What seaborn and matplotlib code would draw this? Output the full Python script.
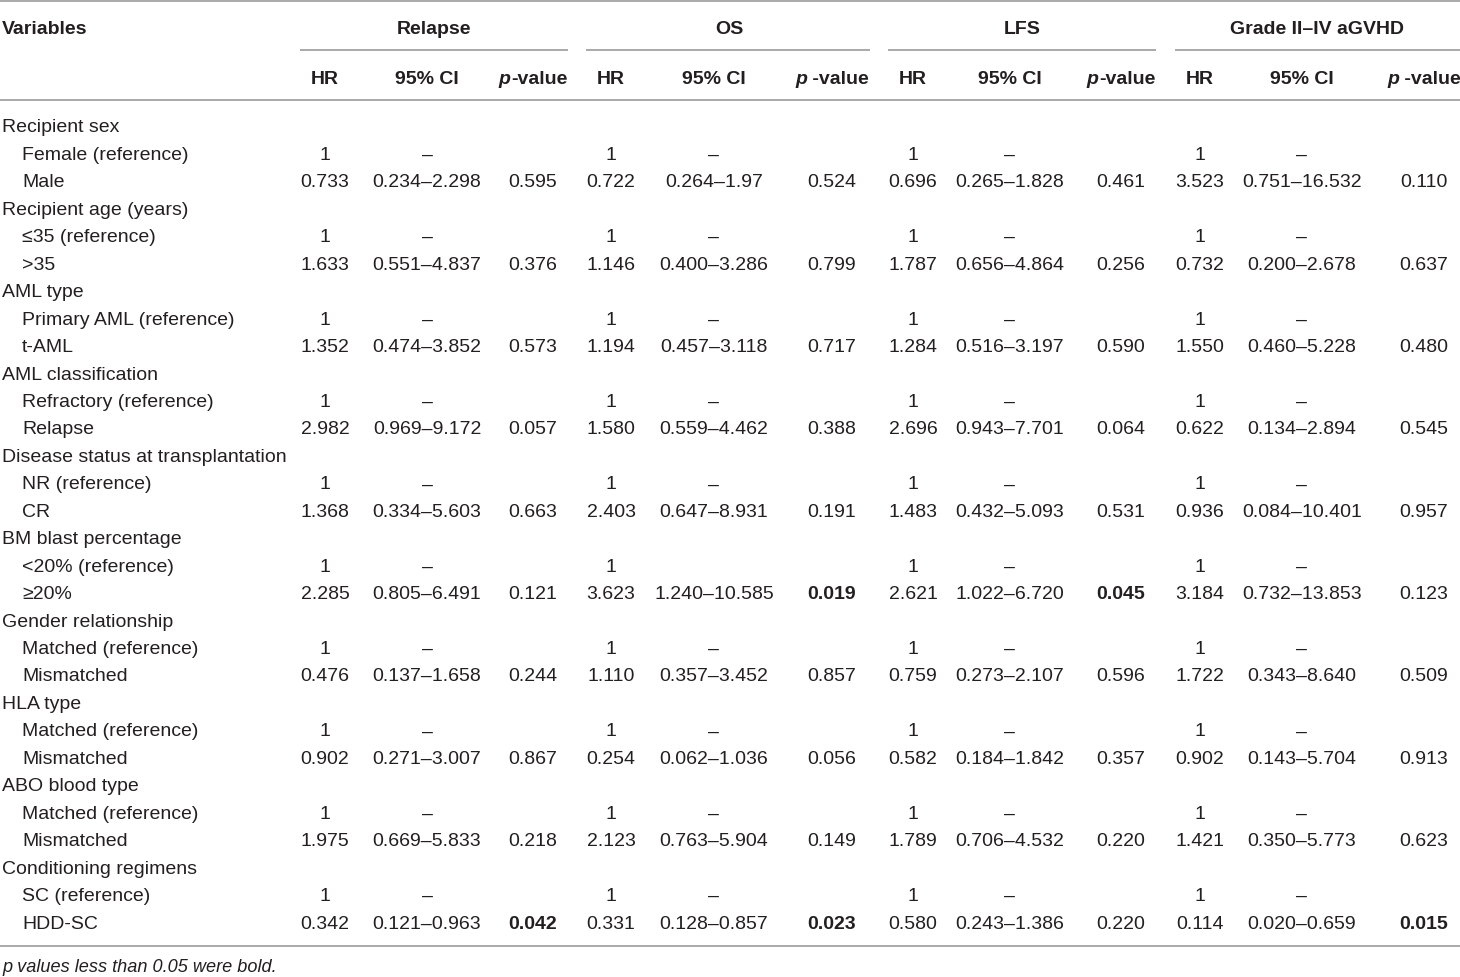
import matplotlib
matplotlib.use("Agg")
import matplotlib.pyplot as plt
import seaborn as sns

# Table contents
groups = ["Recipient sex", "Recipient age (years)", "AML type", "AML classification",
          "Disease status at transplantation", "BM blast percentage", "Gender relationship",
          "HLA type", "ABO blood type", "Conditioning regimens"]
ref_levels = ["Female (reference)", "\u226435 (reference)", "Primary AML (reference)",
              "Refractory (reference)", "NR (reference)", "<20% (reference)",
              "Matched (reference)", "Matched (reference)", "Matched (reference)",
              "SC (reference)"]
cmp_levels = ["Male", ">35", "t-AML", "Relapse", "CR", "\u226520%", "Mismatched",
              "Mismatched", "Mismatched", "HDD-SC"]

outcomes = ["Relapse", "OS", "LFS", "Grade II\u2013IV aGVHD"]

relapse_hr = ["0.733", "1.633", "1.352", "2.982", "1.368", "2.285", "0.476", "0.902", "1.975", "0.342"]
relapse_ci = ["0.234\u20132.298", "0.551\u20134.837", "0.474\u20133.852", "0.969\u20139.172",
              "0.334\u20135.603", "0.805\u20136.491", "0.137\u20131.658", "0.271\u20133.007",
              "0.669\u20135.833", "0.121\u20130.963"]
relapse_p = ["0.595", "0.376", "0.573", "0.057", "0.663", "0.121", "0.244", "0.867", "0.218", "0.042"]

os_hr = ["0.722", "1.146", "1.194", "1.580", "2.403", "3.623", "1.110", "0.254", "2.123", "0.331"]
os_ci = ["0.264\u20131.97", "0.400\u20133.286", "0.457\u20133.118", "0.559\u20134.462",
         "0.647\u20138.931", "1.240\u201310.585", "0.357\u20133.452", "0.062\u20131.036",
         "0.763\u20135.904", "0.128\u20130.857"]
os_p = ["0.524", "0.799", "0.717", "0.388", "0.191", "0.019", "0.857", "0.056", "0.149", "0.023"]

lfs_hr = ["0.696", "1.787", "1.284", "2.696", "1.483", "2.621", "0.759", "0.582", "1.789", "0.580"]
lfs_ci = ["0.265\u20131.828", "0.656\u20134.864", "0.516\u20133.197", "0.943\u20137.701",
          "0.432\u20135.093", "1.022\u20136.720", "0.273\u20132.107", "0.184\u20131.842",
          "0.706\u20134.532", "0.243\u20131.386"]
lfs_p = ["0.461", "0.256", "0.590", "0.064", "0.531", "0.045", "0.596", "0.357", "0.220", "0.220"]

gvhd_hr = ["3.523", "0.732", "1.550", "0.622", "0.936", "3.184", "1.722", "0.902", "1.421", "0.114"]
gvhd_ci = ["0.751\u201316.532", "0.200\u20132.678", "0.460\u20135.228", "0.134\u20132.894",
           "0.084\u201310.401", "0.732\u201313.853", "0.343\u20138.640", "0.143\u20135.704",
           "0.350\u20135.773", "0.020\u20130.659"]
gvhd_p = ["0.110", "0.637", "0.480", "0.545", "0.957", "0.123", "0.509", "0.913", "0.623", "0.015"]

# CI shown on the reference rows ("" where the source leaves it blank)
relapse_ref_ci = ["\u2013"] * 10
os_ref_ci = ["\u2013"] * 5 + [""] + ["\u2013"] * 4
lfs_ref_ci = ["\u2013"] * 10
gvhd_ref_ci = ["\u2013"] * 10

series = [(relapse_hr, relapse_ci, relapse_p, relapse_ref_ci),
          (os_hr, os_ci, os_p, os_ref_ci),
          (lfs_hr, lfs_ci, lfs_p, lfs_ref_ci),
          (gvhd_hr, gvhd_ci, gvhd_p, gvhd_ref_ci)]
p_headers = ["-value", " -value", "-value", " -value"]
footnote = "p values less than 0.05 were bold."

# Layout (pixel space)
W, H = 1460, 977
col_x = [(325, 427, 533), (611, 714, 832), (913, 1010, 1121), (1200, 1302, 1424)]
group_span = [(300, 568), (586, 870), (888, 1156), (1175, 1460)]
title_x = [434, 729, 1022, 1317]
y_first, dy = 128, 27.45
txt = "#231f20"
rule = "#a3a3a3"
fs = 14.0

sns.set_theme(style="white")
plt.rcParams["font.family"] = ["Liberation Sans", "DejaVu Sans"]

fig = plt.figure(figsize=(W / 100, H / 100), dpi=100)
ax = fig.add_axes([0, 0, 1, 1])
ax.set_xlim(0, W)
ax.set_ylim(H, 0)
ax.axis("off")

# rules
ax.axhline(1, color=rule, lw=1.3)
ax.axhline(100, color=rule, lw=1.3)
ax.axhline(946, color=rule, lw=1.3)
for x0, x1 in group_span:
    ax.plot([x0, x1], [50, 50], color=rule, lw=1.3, solid_capstyle="butt")

# header
ax.text(2, 29, "Variables", ha="left", va="center", fontsize=fs, fontweight="bold", color=txt)
for name, x in zip(outcomes, title_x):
    ax.text(x, 29, name, ha="center", va="center", fontsize=fs, fontweight="bold", color=txt)

fig.canvas.draw()
renderer = fig.canvas.get_renderer()
for (xh, xc, xp), ph in zip(col_x, p_headers):
    ax.text(xh, 79, "HR", ha="center", va="center", fontsize=fs, fontweight="bold", color=txt)
    ax.text(xc, 79, "95% CI", ha="center", va="center", fontsize=fs, fontweight="bold", color=txt)
    t1 = ax.text(0, 79, "p", ha="left", va="center", fontsize=fs, fontweight="bold",
                 style="italic", color=txt)
    t2 = ax.text(0, 79, ph, ha="left", va="center", fontsize=fs, fontweight="bold", color=txt)
    w1 = t1.get_window_extent(renderer).width
    w2 = t2.get_window_extent(renderer).width
    left = xp - (w1 + w2) / 2
    t1.set_x(left)
    t2.set_x(left + w1)

# body
for g in range(len(groups)):
    y0 = y_first + 3 * g * dy
    ax.text(2, y0, groups[g], ha="left", va="center", fontsize=fs, color=txt)
    ax.text(22, y0 + dy, ref_levels[g], ha="left", va="center", fontsize=fs, color=txt)
    ax.text(22, y0 + 2 * dy, cmp_levels[g], ha="left", va="center", fontsize=fs, color=txt)
    for (hr, ci, pv, ref_ci), (xh, xc, xp) in zip(series, col_x):
        ax.text(xh, y0 + dy, "1", ha="center", va="center", fontsize=fs, color=txt)
        ax.text(xc, y0 + dy, ref_ci[g], ha="center", va="center", fontsize=fs, color=txt)
        ax.text(xh, y0 + 2 * dy, hr[g], ha="center", va="center", fontsize=fs, color=txt)
        ax.text(xc, y0 + 2 * dy, ci[g], ha="center", va="center", fontsize=fs, color=txt)
        bold = float(pv[g]) < 0.05
        ax.text(xp, y0 + 2 * dy, pv[g], ha="center", va="center", fontsize=fs,
                fontweight="bold" if bold else "normal", color=txt)

ax.text(2, 967, footnote, ha="left", va="center", fontsize=fs * 0.93, style="italic", color=txt)

fig.savefig("out.png", dpi=100)
